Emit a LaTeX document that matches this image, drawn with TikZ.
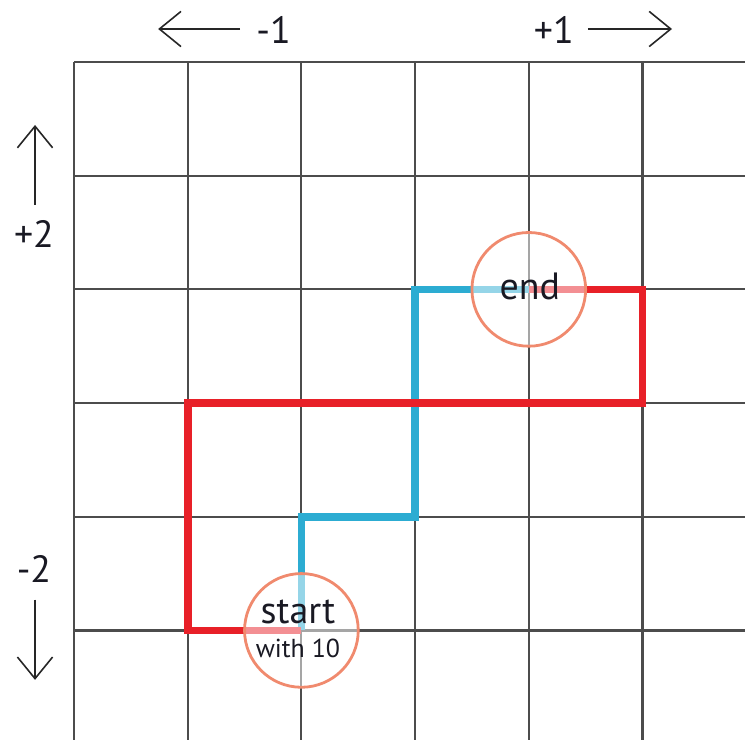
\documentclass[tikz,border=0pt]{standalone}
\usepackage{fontspec}
\setmainfont{PT Sans}
\usepackage{xcolor}
\usetikzlibrary{arrows.meta,positioning,calc}

\definecolor{pathred}{RGB}{232,32,40}
\definecolor{pathblue}{RGB}{44,172,210}
\definecolor{ringsalmon}{RGB}{240,138,110}
\definecolor{inkdark}{RGB}{25,25,35}

\begin{document}
\begin{tikzpicture}[x=1cm, y=1cm,
  gridline/.style={gray!60!black, line width=0.55pt},
  route/.style={line width=1.9pt, line join=miter},
  ring/.style={circle, draw=ringsalmon, line width=0.7pt, fill=white, fill opacity=0.5,
    text opacity=1, minimum size=1cm, inner sep=0pt},
  hint/.style={text=inkdark, font=\fontsize{9.5}{10}\selectfont, inner sep=0pt},
  dir/.style={-{Straight Barb[length=5.4pt, width=8.8pt]}, line width=0.4pt, gray!30!black}]
  \useasboundingbox (-0.651,-5.963) rectangle (5.902,0.545);

  % Draw grid
  \foreach \c in {0,...,5} {
    \draw[gridline] (\c,0) -- (\c,-5.963);
    \draw[gridline] (0,-\c) -- (5.902,-\c);
  }

  % Two routes from start to end
  \coordinate (s) at (2,-5);
  \coordinate (e) at (4,-2);
  \draw[route, pathblue] (s) -- ++(0,1) -- ++(1,0) |- (e);
  \draw[route, pathred] (s) -- ++(-1,0) |- (5,-3) |- (e);

  % Start and end rings
  \node[ring] (start) at (s) {};
  \node[ring] (end) at (e) {};
  \node[hint, anchor=base] (startlbl) at ($(start.center)+(-0.03,0.06)$) {start};
  \node[hint, anchor=base, font=\fontsize{6.5}{7}\selectfont] (withlbl) at ($(start.center)+(-0.03,-0.24)$) {with 10};
  \node[hint, anchor=base] (endlbl) at ($(end.center)+(0.01,-0.088)$) {end};

  % Direction hints
  \node[hint] (left) at (1.755,0.281) {-1};
  \node[hint] (right) at (4.22,0.281) {+1};
  \node[hint] (up) at (-0.352,-1.513) {+2};
  \node[hint] (down) at (-0.352,-4.463) {-2};
  \coordinate (lefttip) at (0.74,0.29);
  \coordinate (righttip) at (5.26,0.29);
  \coordinate (uptip) at (-0.343,-0.554);
  \coordinate (downtip) at (-0.343,-5.435);
  \draw[dir] (1.46,0.29) -- (lefttip);
  \draw[dir] (4.52,0.29) -- (righttip);
  \draw[dir] (-0.343,-1.258) -- (uptip);
  \draw[dir] (-0.343,-4.73) -- (downtip);
\end{tikzpicture}
\end{document}
